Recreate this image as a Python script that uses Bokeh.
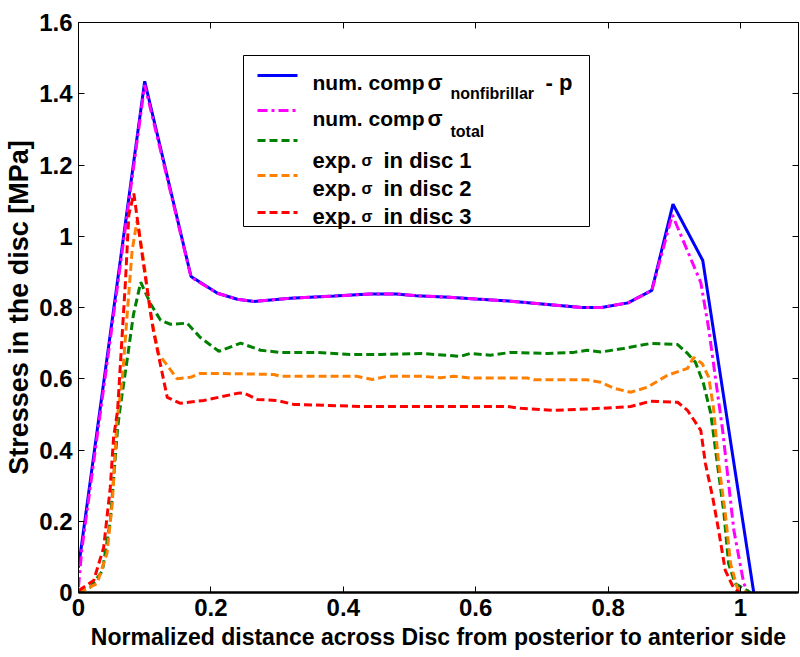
from bokeh.plotting import figure
from bokeh.models import LinearAxis, FixedTicker, Label, BoxAnnotation, Arrow, Range1d
from bokeh.embed import file_html
from bokeh.resources import INLINE

# ---------------- data ----------------
x_nonfib = [0, 0.1, 0.17, 0.21, 0.24, 0.265, 0.32, 0.386, 0.44, 0.48, 0.51, 0.56, 0.6, 0.65,
            0.7, 0.76, 0.79, 0.83, 0.866, 0.898, 0.943, 1.02]
y_nonfib = [0.07, 1.435, 0.887, 0.84, 0.823, 0.817, 0.826, 0.832, 0.838, 0.838, 0.833, 0.829,
            0.824, 0.818, 0.81, 0.80, 0.80, 0.813, 0.848, 1.09, 0.932, 0.0]

x_total = [0, 0.005, 0.1, 0.17, 0.21, 0.24, 0.265, 0.32, 0.386, 0.44, 0.48, 0.51, 0.56, 0.6,
           0.65, 0.7, 0.76, 0.79, 0.83, 0.866, 0.897, 0.94, 0.952, 0.973, 0.99, 1.005, 1.012]
y_total = [0.015, 0.12, 1.425, 0.885, 0.84, 0.823, 0.817, 0.826, 0.832, 0.838, 0.838, 0.833,
           0.829, 0.824, 0.818, 0.81, 0.80, 0.80, 0.813, 0.848, 1.06, 0.87, 0.74, 0.455,
           0.174, 0.025, 0.0]

x_disc1 = [0, 0.018, 0.036, 0.048, 0.059, 0.063, 0.074, 0.083, 0.094, 0.109, 0.124, 0.139,
           0.164, 0.184, 0.212, 0.245, 0.275, 0.305, 0.36, 0.41, 0.456, 0.517, 0.577, 0.592,
           0.622, 0.653, 0.708, 0.748, 0.768, 0.789, 0.823, 0.864, 0.905, 0.92, 0.932, 0.944,
           0.955, 0.965, 0.975, 0.982, 0.992, 1.015]
y_disc1 = [0, 0.015, 0.06, 0.2, 0.46, 0.52, 0.66, 0.78, 0.871, 0.81, 0.764, 0.753, 0.756,
           0.716, 0.677, 0.70, 0.68, 0.674, 0.674, 0.668, 0.668, 0.671, 0.663, 0.671, 0.666,
           0.674, 0.671, 0.674, 0.68, 0.675, 0.685, 0.699, 0.696, 0.671, 0.646, 0.587, 0.503,
           0.362, 0.222, 0.081, 0.025, 0]

x_disc2 = [0, 0.028, 0.043, 0.051, 0.058, 0.066, 0.0735, 0.081, 0.0886, 0.099, 0.109, 0.121,
           0.149, 0.169, 0.184, 0.245, 0.295, 0.305, 0.42, 0.444, 0.467, 0.517, 0.547, 0.567,
           0.592, 0.678, 0.688, 0.768, 0.789, 0.809, 0.834, 0.859, 0.89, 0.92, 0.929, 0.942,
           0.952, 0.959, 0.967, 0.977, 0.985, 0.995, 1.01]
y_disc2 = [0, 0.025, 0.11, 0.25, 0.483, 0.595, 0.78, 0.96, 1.045, 0.924, 0.78, 0.67, 0.60,
           0.604, 0.615, 0.614, 0.612, 0.607, 0.607, 0.598, 0.607, 0.607, 0.603, 0.607, 0.602,
           0.602, 0.597, 0.597, 0.59, 0.573, 0.562, 0.576, 0.61, 0.629, 0.66, 0.643, 0.604,
           0.52, 0.362, 0.222, 0.081, 0.014, 0]

x_disc3 = [0, 0.023, 0.038, 0.048, 0.053, 0.059, 0.071, 0.076, 0.0836, 0.098, 0.113, 0.134,
           0.154, 0.189, 0.24, 0.25, 0.27, 0.30, 0.325, 0.43, 0.517, 0.648, 0.668, 0.718,
           0.789, 0.834, 0.864, 0.905, 0.92, 0.94, 0.947, 0.958, 0.967, 0.977, 0.99, 1.0]
y_disc3 = [0.005, 0.034, 0.126, 0.295, 0.435, 0.51, 0.876, 1.06, 1.12, 0.924, 0.736, 0.548,
           0.531, 0.539, 0.559, 0.56, 0.542, 0.539, 0.528, 0.522, 0.522, 0.522, 0.517, 0.511,
           0.517, 0.522, 0.537, 0.534, 0.511, 0.455, 0.362, 0.267, 0.174, 0.062, 0.011, 0]

x_ticks = [0, 0.2, 0.4, 0.6, 0.8, 1]
x_tick_labels = ["0", "0.2", "0.4", "0.6", "0.8", "1"]
y_ticks = [0, 0.2, 0.4, 0.6, 0.8, 1, 1.2, 1.4, 1.6]
y_tick_labels = ["0", "0.2", "0.4", "0.6", "0.8", "1", "1.2", "1.4", "1.6"]

x_title = "Normalized distance across Disc from posterior to anterior side"
y_title = "Stresses in the disc [MPa]"

FONT = "Liberation Sans"

# ---------------- figure ----------------
p = figure(width=800, height=657, output_backend="svg", toolbar_location=None,
           x_range=Range1d(0, 1.0876), y_range=Range1d(0, 1.6),
           min_border_left=78, min_border_right=2, min_border_top=22, min_border_bottom=65,
           x_axis_location=None, y_axis_location=None)
p.grid.visible = False
p.outline_line_color = "black"
p.outline_line_width = 1
p.background_fill_color = "white"
p.border_fill_color = "white"


def style_axis(ax, ticks, labels, show_labels=True, lw=1):
    ax.ticker = FixedTicker(ticks=ticks)
    ax.major_tick_in = 6
    ax.major_tick_out = 0
    ax.minor_tick_in = 0
    ax.minor_tick_out = 0
    ax.axis_line_color = "black"
    ax.axis_line_width = lw
    ax.major_tick_line_color = "black"
    ax.major_tick_line_width = 1
    if show_labels:
        ax.major_label_overrides = {t: l for t, l in zip(ticks, labels)}
        ax.major_label_text_font = FONT
        ax.major_label_text_font_style = "bold"
        ax.major_label_text_color = "black"
        ax.major_label_text_font_size = "24px"
        ax.major_label_standoff = 6
    else:
        # tick marks only: the labels are not painted at all
        ax.major_label_text_color = None
        ax.major_label_text_alpha = 0
        ax.major_label_text_font_size = "1px"
        ax.major_label_standoff = 0


xb = LinearAxis(axis_label=x_title)
style_axis(xb, x_ticks, x_tick_labels, True, lw=2.5)
xb.axis_label_text_font = FONT
xb.axis_label_text_font_style = "bold"
xb.axis_label_text_font_size = "23px"
xb.axis_label_text_color = "black"
xb.axis_label_standoff = 5
p.add_layout(xb, "below")

yl = LinearAxis(axis_label=y_title)
style_axis(yl, y_ticks, y_tick_labels, True, lw=1)
yl.axis_label_text_font = FONT
yl.axis_label_text_font_style = "bold"
yl.axis_label_text_font_size = "27px"
yl.axis_label_text_color = "black"
yl.axis_label_standoff = 2
p.add_layout(yl, "left")

xt = LinearAxis()
style_axis(xt, x_ticks, x_tick_labels, False)
p.add_layout(xt, "above")

yr = LinearAxis()
style_axis(yr, y_ticks, y_tick_labels, False)
p.add_layout(yr, "right")

# ---------------- series ----------------
BLUE, MAGENTA, GREEN, ORANGE, RED = "#0000ff", "#ff00ff", "#008000", "#ff8000", "#ff0000"
LW = 3
p.line(x_nonfib, y_nonfib, line_color=BLUE, line_width=LW)
p.line(x_total, y_total, line_color=MAGENTA, line_width=LW, line_dash="10 4 3 4")
p.line(x_disc1, y_disc1, line_color=GREEN, line_width=LW, line_dash="8 4")
p.line(x_disc2, y_disc2, line_color=ORANGE, line_width=LW, line_dash="8 4")
p.line(x_disc3, y_disc3, line_color=RED, line_width=LW, line_dash="8 4")

# ---------------- legend (screen units, relative to plot frame) ----------------
p.add_layout(BoxAnnotation(left=165, right=511, bottom=366, top=537,
                           left_units="screen", right_units="screen",
                           bottom_units="screen", top_units="screen",
                           fill_color="white", fill_alpha=1.0,
                           line_color="black", line_width=1, line_alpha=1.0))

sample_rows = [(517, BLUE, "solid"), (482, MAGENTA, "10 4 3 4"), (452, GREEN, "8 4"),
               (417, ORANGE, "8 4"), (380, RED, "8 4")]
for yy, col, dash in sample_rows:
    p.add_layout(Arrow(x_start=179, y_start=yy, x_end=219, y_end=yy,
                       start_units="screen", end_units="screen",
                       start=None, end=None, line_color=col, line_width=LW,
                       line_dash=dash))


def lab(x, y, t, size):
    p.add_layout(Label(x=x, y=y, x_units="screen", y_units="screen", text=t,
                       text_font=FONT, text_font_style="bold", text_font_size=size,
                       text_color="black", text_baseline="alphabetic", text_align="left"))


# row 1
lab(234, 510, "num. comp", "21px")
lab(349, 510, "σ", "22px")
lab(372, 499, "nonfibrillar", "16px")
lab(467, 510, "- p", "22px")
# row 2
lab(234, 474, "num. comp", "21px")
lab(349, 474, "σ", "22px")
lab(372, 461, "total", "16px")
# rows 3-5
for base, num in [(432, "1"), (404, "2"), (376, "3")]:
    lab(234, base, "exp.", "22px")
    lab(283, base, "σ", "16px")
    lab(305, base, "in disc " + num, "22px")

open("out.html", "w").write(file_html(p, INLINE))
